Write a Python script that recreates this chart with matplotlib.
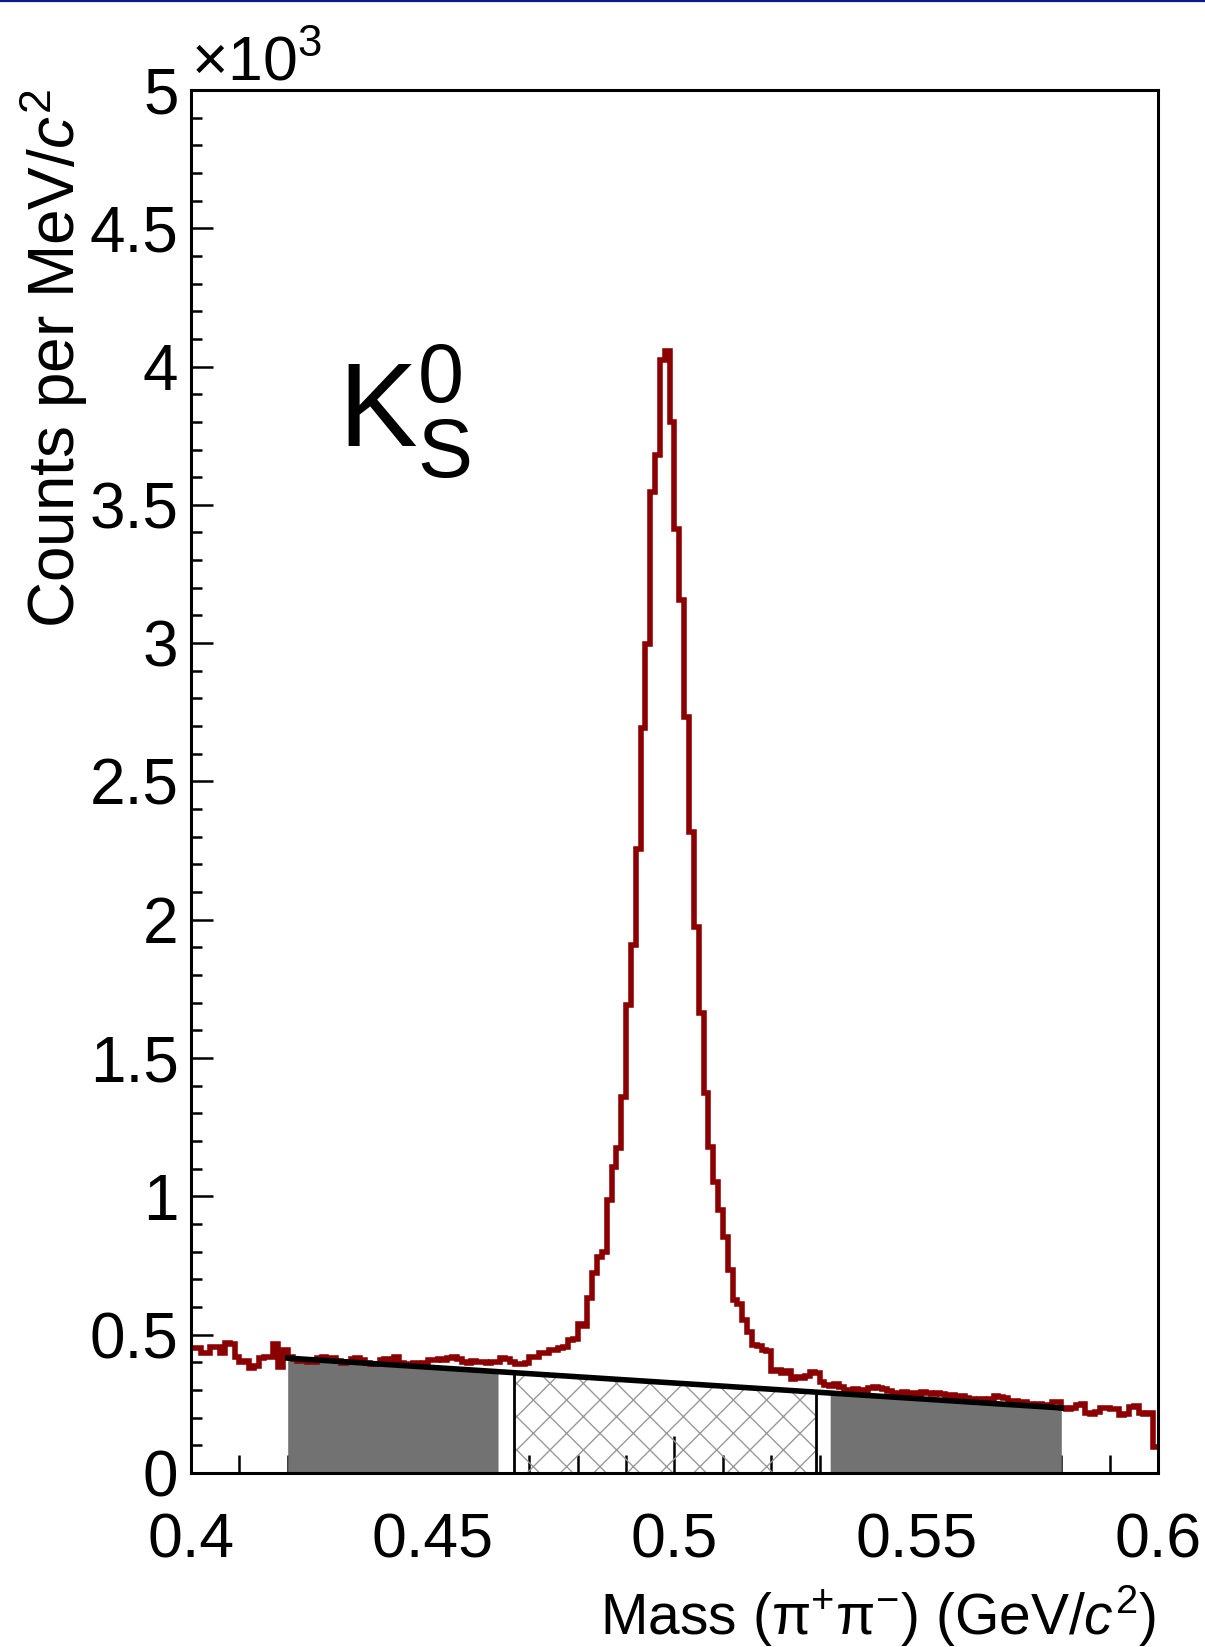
import numpy as np
import matplotlib
matplotlib.use('Agg')
import matplotlib.pyplot as plt
from matplotlib import font_manager
from matplotlib.lines import Line2D

# histogram: counts per 1 MeV bin, 0.40 - 0.60 GeV
bin_lo = 0.4
bin_hi = 0.6
counts = [450, 450, 433, 435, 457, 455, 433, 469, 465, 420,
          402, 405, 378, 385, 414, 418, 420, 465, 382, 445,
          420, 412, 405, 408, 400, 402, 415, 418, 412, 416,
          404, 398, 400, 412, 414, 410, 396, 392, 395, 408,
          412, 410, 420, 396, 392, 390, 397, 395, 398, 410,
          408, 412, 410, 415, 418, 412, 402, 398, 405, 400,
          402, 396, 402, 400, 415, 412, 400, 395, 392, 398,
          420, 420, 434, 432, 445, 445, 452, 455, 480, 485,
          540, 530, 632, 723, 780, 800, 987, 1107, 1175, 1360,
          1690, 1909, 2254, 2693, 2998, 3547, 3680, 4025, 4056, 3798,
          3414, 3155, 2732, 2317, 1972, 1663, 1373, 1180, 1050, 951,
          854, 734, 625, 612, 553, 511, 463, 460, 445, 440,
          368, 372, 362, 370, 340, 345, 343, 352, 366, 362,
          330, 318, 315, 320, 312, 300, 298, 304, 300, 296,
          308, 312, 306, 303, 296, 290, 288, 292, 286, 290,
          284, 291, 288, 285, 290, 284, 276, 280, 274, 278,
          272, 266, 262, 268, 260, 266, 278, 276, 272, 258,
          260, 255, 258, 250, 246, 248, 244, 247, 256, 258,
          236, 232, 235, 246, 248, 218, 214, 220, 234, 236,
          232, 230, 210, 212, 238, 242, 218, 214, 218, 95]

# straight background line
bkg_x = [0.42, 0.58]
bkg_y = [415, 235]

# mass windows
side_left = (0.42, 0.4635)
signal = (0.4668, 0.5292)
side_right = (0.5322, 0.58)

xticks = [0.4, 0.45, 0.5, 0.55, 0.6]
xticklabels = ['0.4', '0.45', '0.5', '0.55', '0.6']
yticks = [0, 500, 1000, 1500, 2000, 2500, 3000, 3500, 4000, 4500, 5000]
yticklabels = ['0', '0.5', '1', '1.5', '2', '2.5', '3', '3.5', '4', '4.5', '5']

names = {f.name for f in font_manager.fontManager.ttflist}
narrow = 'Liberation Sans Narrow' if 'Liberation Sans Narrow' in names else 'Liberation Sans'

plt.rcParams['font.family'] = [narrow, 'DejaVu Sans']
plt.rcParams['mathtext.fontset'] = 'custom'
plt.rcParams['mathtext.rm'] = narrow
plt.rcParams['mathtext.it'] = narrow + ':italic'
plt.rcParams['mathtext.sf'] = narrow
plt.rcParams['hatch.linewidth'] = 1.0

fig = plt.figure(figsize=(12.05, 16.47), dpi=100)
ax = fig.add_axes([0.1585, 0.1057, 0.8025, 0.8397])

edges = np.linspace(bin_lo, bin_hi, len(counts) + 1)

# sidebands (grey) and signal window (hatched)
for lo, hi in [side_left, side_right]:
    xs = np.linspace(lo, hi, 50)
    ax.fill_between(xs, 0, np.interp(xs, bkg_x, bkg_y), color='#727272', lw=0, zorder=3)
xs = np.linspace(signal[0], signal[1], 50)
ax.fill_between(xs, 0, np.interp(xs, bkg_x, bkg_y), facecolor='none', edgecolor='#999999',
                hatch='x', lw=0, zorder=3)
ax.vlines(signal, 0, np.interp(signal, bkg_x, bkg_y), color='k', lw=2.0, zorder=4)

ax.stairs(counts, edges, baseline=None, color='#8b0000', lw=4.0, zorder=4)
ax.plot(bkg_x, bkg_y, color='k', lw=4.0, zorder=5)

ax.set_xlim(bin_lo, bin_hi)
ax.set_ylim(0, 5000)
ax.set_xticks(xticks)
ax.set_xticklabels(xticklabels)
ax.set_xticks(np.arange(0.41, 0.6, 0.01), minor=True)
ax.set_yticks(yticks)
ax.set_yticklabels(yticklabels)
ax.set_yticks(np.arange(100, 5000, 100), minor=True)

ax.tick_params(axis='x', which='major', direction='in', length=27, width=1.8, pad=28, labelsize=45)
ax.tick_params(axis='x', which='minor', direction='in', length=13, width=1.8)
ax.tick_params(axis='y', which='major', direction='in', length=16, width=1.8, pad=9, labelsize=46)
ax.tick_params(axis='y', which='minor', direction='in', length=8, width=1.8)
for sp in ax.spines.values():
    sp.set_linewidth(2.2)
    sp.set_zorder(6)

ax.text(0.152, 0.742, r'$\mathrm{K}^{0}_{\mathrm{S}}$', transform=ax.transAxes,
        fontsize=85, ha='left', va='baseline')

fig.text(191 / 1205, 1 - 80 / 1647, '×10$^{3}$', fontsize=45, ha='left', va='baseline')
fig.text(54 / 1205, 1 - 89 / 1647, 'Counts per MeV/$c^{2}$', fontsize=46, rotation=90,
         ha='center', va='top', family=['Liberation Sans', 'DejaVu Sans'])
fig.text(1156 / 1205, 1 - 1635 / 1647, 'Mass (π$^{+}$π$^{-}$) (GeV/$c^{2}$)', fontsize=41,
         ha='right', va='baseline')

fig.add_artist(Line2D([0, 1], [0.9992, 0.9992], transform=fig.transFigure, color='#0d1a8c', lw=1.6))

fig.savefig('out.png', dpi=100)
